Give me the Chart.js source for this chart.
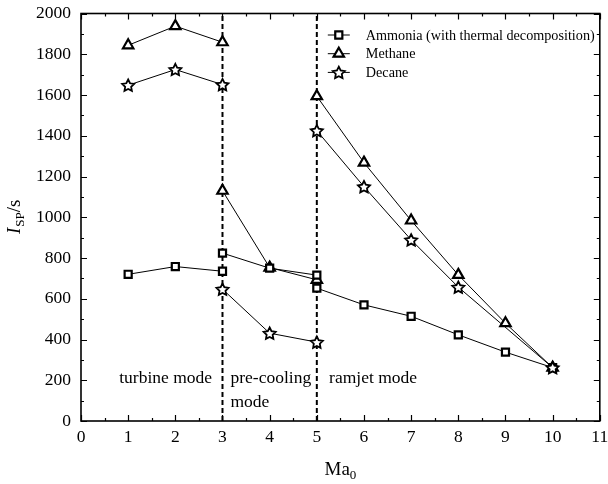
<!DOCTYPE html>
<html>
<head>
<meta charset="utf-8">
<script src="https://cdn.jsdelivr.net/npm/chart.js@4/dist/chart.umd.min.js"></script>
<style>
  html, body { margin: 0; padding: 0; background: #fff; }
  #wrap { width: 608px; height: 484px; }
</style>
</head>
<body>
<div id="wrap"><canvas id="isp"></canvas></div>
<script>
// Specific impulse vs flight Mach number, split into turbine / pre-cooling / ramjet modes.
// null in an Isp list breaks the line where the engine switches mode.
const ammoniaMa  = [1, 2, 3, 3, 3, 4, 5, 5, 5, 6, 7, 8, 9, 10];
const ammoniaIsp = [720, 758, 735, null, 824, 750, 716, null, 652, 570, 514, 423, 338, 262];

const methaneMa  = [1, 2, 3, 3, 3, 4, 5, 5, 5, 6, 7, 8, 9, 10];
const methaneIsp = [1844, 1938, 1859, null, 1130, 753, 693, null, 1594, 1268, 984, 717, 480, 262];

const decaneMa  = [1, 2, 3, 3, 3, 4, 5, 5, 5, 6, 7, 8, 10];
const decaneIsp = [1648, 1725, 1651, null, 647, 431, 387, null, 1425, 1150, 889, 657, 262];

const seriesNames = ['Ammonia (with thermal decomposition)', 'Methane', 'Decane'];
const modeBounds = [3, 5];
const modeNames = ['turbine mode', 'pre-cooling', 'mode', 'ramjet mode'];

const xTicks = [0, 11, 1];      // min, max, step
const yTicks = [0, 2000, 200];

const SERIF = '"Liberation Serif", "Times New Roman", serif';

function pts(xs, ys) {
  return xs.map((x, i) => ({ x: x, y: ys[i] }));
}

// five-pointed outline star (Chart.js' own 'star' is an asterisk)
function drawStar(ctx, cx, cy, ro) {
  const ri = ro * 0.5;
  ctx.beginPath();
  for (let i = 0; i < 10; i++) {
    const r = i % 2 ? ri : ro;
    const a = -Math.PI / 2 + i * Math.PI / 5;
    ctx.lineTo(cx + r * Math.cos(a), cy + 0.6 + r * Math.sin(a));
  }
  ctx.closePath();
  ctx.fillStyle = '#fff';
  ctx.fill();
  ctx.lineWidth = 1.8;
  ctx.lineJoin = 'miter';
  ctx.strokeStyle = '#000';
  ctx.stroke();
}
const STAR_R = 6.3;

function series(label, data, style, radius) {
  return {
    label: label,
    data: data,
    borderColor: '#000',
    borderWidth: 1,
    backgroundColor: '#fff',
    pointStyle: style,
    pointRadius: radius,
    pointBorderWidth: 2.2,
    pointBorderColor: '#000',
    pointBackgroundColor: '#fff',
    spanGaps: false,
    tension: 0,
    order: 1
  };
}

function divider(x) {
  return {
    label: '',
    data: [{ x: x, y: yTicks[0] }, { x: x, y: yTicks[1] }],
    borderColor: '#000',
    borderWidth: 2,
    borderDash: [5, 3],
    pointRadius: 0,
    order: 5
  };
}

const datasets = [
  series(seriesNames[0], pts(ammoniaMa, ammoniaIsp), 'rect', 5),
  series(seriesNames[1], pts(methaneMa, methaneIsp), 'triangle', 6),
  series(seriesNames[2], pts(decaneMa, decaneIsp), 'star', 0)
].concat(modeBounds.map(divider));

// star markers on top of the decane line, at the points the line controller placed
const starMarkers = {
  id: 'starMarkers',
  afterDatasetsDraw(chart) {
    const ctx = chart.ctx;
    ctx.save();
    chart.getDatasetMeta(2).data.forEach(el => {
      if (!el.skip) drawStar(ctx, el.x, el.y, STAR_R);
    });
    ctx.restore();
  }
};

// frame, inward ticks, mode labels, legend and axis titles
const decorations = {
  id: 'decorations',
  afterDraw(chart) {
    const ctx = chart.ctx;
    const a = chart.chartArea;
    const xs = chart.scales.x, ys = chart.scales.y;
    ctx.save();
    ctx.strokeStyle = '#000';
    ctx.fillStyle = '#000';

    // ticks
    ctx.lineWidth = 1.2;
    ctx.beginPath();
    for (let v = xTicks[0]; v <= xTicks[1] + 1e-9; v += xTicks[2] / 2) {
      const px = Math.round(xs.getPixelForValue(v)) + 0.5;
      const len = Math.abs(v - Math.round(v)) < 1e-9 ? 6 : 3;
      ctx.moveTo(px, a.bottom); ctx.lineTo(px, a.bottom - len);
      ctx.moveTo(px, a.top); ctx.lineTo(px, a.top + len);
    }
    for (let v = yTicks[0]; v <= yTicks[1] + 1e-9; v += yTicks[2] / 2) {
      const py = Math.round(ys.getPixelForValue(v)) + 0.5;
      const len = v % yTicks[2] === 0 ? 6 : 3;
      ctx.moveTo(a.left, py); ctx.lineTo(a.left + len, py);
      ctx.moveTo(a.right, py); ctx.lineTo(a.right - len, py);
    }
    ctx.stroke();

    // frame
    ctx.lineWidth = 1.6;
    ctx.strokeRect(a.left, a.top, a.right - a.left, a.bottom - a.top);

    // mode labels
    ctx.font = '17.5px ' + SERIF;
    ctx.textBaseline = 'middle';
    ctx.textAlign = 'left';
    ctx.fillText(modeNames[0], xs.getPixelForValue(0.81), ys.getPixelForValue(211));
    ctx.fillText(modeNames[1], xs.getPixelForValue(3.17), ys.getPixelForValue(211));
    ctx.fillText(modeNames[2], xs.getPixelForValue(3.17), ys.getPixelForValue(93));
    ctx.fillText(modeNames[3], xs.getPixelForValue(5.26), ys.getPixelForValue(211));

    // legend
    const lx = a.right - 272, ly = a.top + 21.5, step = 18.7;
    ctx.font = '14.2px ' + SERIF;
    for (let i = 0; i < 3; i++) {
      const ds = chart.data.datasets[i];
      const y = ly + i * step;
      ctx.lineWidth = 1;
      ctx.beginPath();
      ctx.moveTo(lx, y); ctx.lineTo(lx + 22, y);
      ctx.stroke();
      if (i === 2) {
        drawStar(ctx, lx + 11, y, STAR_R);
      } else {
        Chart.helpers.drawPoint(ctx, {
          pointStyle: ds.pointStyle,
          radius: ds.pointRadius,
          borderWidth: 2,
          rotation: 0
        }, lx + 11, y);
        ctx.fillStyle = '#fff';
        ctx.fill();
        ctx.lineWidth = 2.2;
        ctx.stroke();
      }
      ctx.fillStyle = '#000';
      ctx.fillText(ds.label, lx + 38, y + 1);
    }

    // x title: Ma0
    ctx.textBaseline = 'alphabetic';
    ctx.font = '19px ' + SERIF;
    const maW = ctx.measureText('Ma').width;
    ctx.font = '13px ' + SERIF;
    const subW = ctx.measureText('0').width;
    let tx = (a.left + a.right) / 2 - (maW + subW) / 2;
    ctx.font = '19px ' + SERIF;
    ctx.fillText('Ma', tx, 475);
    ctx.font = '13px ' + SERIF;
    ctx.fillText('0', tx + maW, 479);

    // y title: Isp/s
    ctx.translate(20, (a.top + a.bottom) / 2);
    ctx.rotate(-Math.PI / 2);
    ctx.font = 'italic 19px ' + SERIF;
    const iW = ctx.measureText('I').width;
    ctx.font = '13px ' + SERIF;
    const spW = ctx.measureText('SP').width;
    ctx.font = '19px ' + SERIF;
    const sW = ctx.measureText('/s').width;
    tx = -(iW + spW + sW) / 2;
    ctx.font = 'italic 19px ' + SERIF;
    ctx.fillText('I', tx, 0);
    ctx.font = '13px ' + SERIF;
    ctx.fillText('SP', tx + iW + 1, 4);
    ctx.font = '19px ' + SERIF;
    ctx.fillText('/s', tx + iW + spW + 1, 0);
    ctx.restore();
  }
};

new Chart(document.getElementById('isp'), {
  type: 'line',
  data: { datasets: datasets },
  options: {
    responsive: true,
    maintainAspectRatio: false,
    animation: false,
    layout: { padding: { top: 13.5, right: 8, left: 0, bottom: 0 } },
    plugins: { legend: { display: false }, tooltip: { enabled: false } },
    scales: {
      x: {
        type: 'linear',
        min: xTicks[0],
        max: xTicks[1],
        ticks: { stepSize: xTicks[2], padding: 6, color: '#000', font: { family: SERIF, size: 17.5 } },
        grid: { drawOnChartArea: false, drawTicks: false },
        border: { display: false },
        afterFit(scale) {
          scale.height = 63;
          scale.paddingLeft = 0;
          scale.paddingRight = 0;
        }
      },
      y: {
        min: yTicks[0],
        max: yTicks[1],
        ticks: {
          stepSize: yTicks[2], padding: 10, color: '#000', font: { family: SERIF, size: 17.5 },
          callback: v => String(v)
        },
        grid: { drawOnChartArea: false, drawTicks: false },
        border: { display: false },
        afterFit(scale) {
          scale.width = 81;
          scale.paddingTop = 0;
          scale.paddingBottom = 0;
        }
      }
    }
  },
  plugins: [starMarkers, decorations]
});
</script>
</body>
</html>
